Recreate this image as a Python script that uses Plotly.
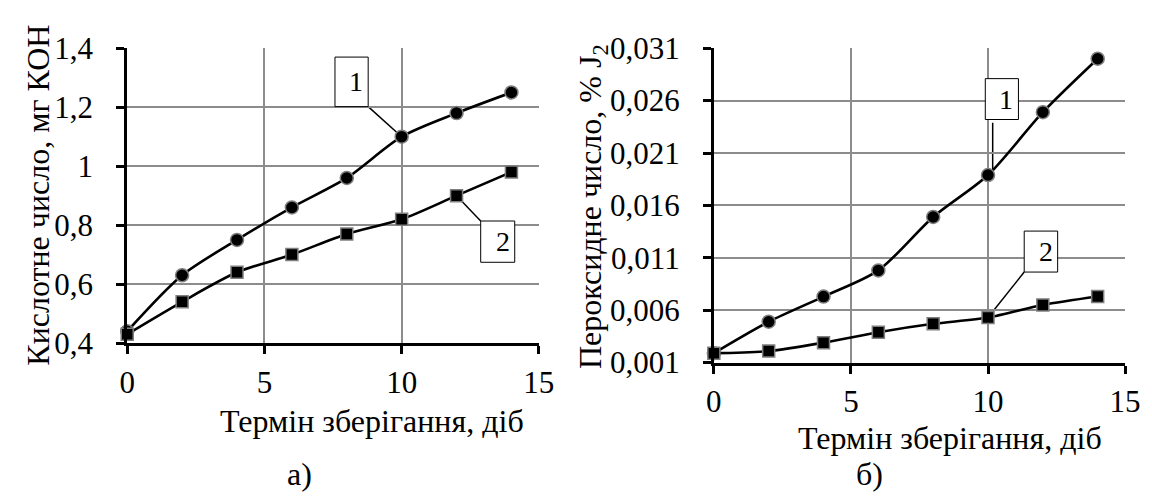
import plotly.graph_objects as go

# ---- data ----
days = [0, 2, 4, 6, 8, 10, 12, 14]
acid_1 = [0.44, 0.63, 0.75, 0.86, 0.96, 1.10, 1.18, 1.25]
acid_2 = [0.43, 0.54, 0.64, 0.70, 0.77, 0.82, 0.90, 0.98]
perox_1 = [0.0019, 0.0049, 0.0073, 0.0098, 0.0149, 0.0189, 0.0249, 0.0300]
perox_2 = [0.0019, 0.0021, 0.0029, 0.0039, 0.0047, 0.0053, 0.0065, 0.0073]

x_ticks = [0, 5, 10, 15]
x_tick_labels = ["0", "5", "10", "15"]
acid_ticks = [0.4, 0.6, 0.8, 1.0, 1.2, 1.4]
acid_tick_labels = ["0,4", "0,6", "0,8", "1", "1,2", "1,4"]
perox_ticks = [0.001, 0.006, 0.011, 0.016, 0.021, 0.026, 0.031]
perox_tick_labels = ["0,001", "0,006", "0,011", "0,016", "0,021", "0,026", "0,031"]

x_title = "Термін зберігання, діб"
acid_title = "Кислотне число, мг КОН"
perox_title = "Пероксидне число, % J<sub>2</sub>"

FONT = "Liberation Serif, Times New Roman, serif"
FS_TICK = 31
FS_TITLE = 32
GRID = "#8c8c8c"

fig = go.Figure()

def add_series(x, y, xa, ya, symbol, size):
    fig.add_trace(go.Scatter(
        x=x, y=y, xaxis=xa, yaxis=ya, mode="lines+markers",
        line=dict(color="black", width=2.6, shape="spline", smoothing=0.8),
        marker=dict(symbol=symbol, size=size, color="black",
                    line=dict(color="#7f7f7f", width=1.5)),
        cliponaxis=False, showlegend=False, hoverinfo="x+y"))

add_series(days, acid_1, "x", "y", "circle", 13)
add_series(days, acid_2, "x", "y", "square", 12)
add_series(days, perox_1, "x2", "y2", "circle", 13)
add_series(days, perox_2, "x2", "y2", "square", 12)

def xaxis_style(domain, anchor, standoff):
    return dict(domain=domain, anchor=anchor, range=[0, 15],
                tickmode="array", tickvals=x_ticks, ticktext=x_tick_labels,
                showline=True, linecolor="black", linewidth=3,
                ticks="outside", ticklen=8, tickwidth=3, tickcolor="black",
                showgrid=True, gridcolor=GRID, gridwidth=1.5, zeroline=False,
                tickfont=dict(family=FONT, size=FS_TICK, color="black"),
                ticklabelstandoff=standoff)

def yaxis_style(domain, anchor, rng, vals, texts):
    return dict(domain=domain, anchor=anchor, range=rng,
                tickmode="array", tickvals=vals, ticktext=texts,
                showline=True, linecolor="black", linewidth=3,
                ticks="outside", ticklen=8, tickwidth=3, tickcolor="black",
                showgrid=True, gridcolor=GRID, gridwidth=1.5, zeroline=False,
                tickfont=dict(family=FONT, size=FS_TICK, color="black"),
                ticklabelstandoff=17)

W, H = 1152, 500
fig.update_layout(
    width=W, height=H, margin=dict(l=0, r=0, t=0, b=0),
    paper_bgcolor="white", plot_bgcolor="white",
    font=dict(family=FONT, color="black"),
    xaxis=xaxis_style([113.6 / W, 534 / W], "y", 2),
    yaxis=yaxis_style([1 - 342 / H, 1 - 25 / H], "x", [0.4, 1.4], acid_ticks, acid_tick_labels),
    xaxis2=xaxis_style([712.7 / W, 1132.7 / W], "y2", 1),
    yaxis2=yaxis_style([1 - 363 / H, 1 - 25 / H], "x2", [0.001, 0.031], perox_ticks, perox_tick_labels),
)

tf = dict(family=FONT, size=FS_TITLE, color="black")
def pa(text, x, y, angle=0):
    return dict(text=text, x=x / W, y=1 - y / H, xref="paper", yref="paper",
                xanchor="center", yanchor="middle", showarrow=False, font=tf,
                textangle=angle)

ann = [
    pa(x_title, 364, 426),
    pa(x_title, 954, 444),
    pa("а)", 290, 483),
    pa("б)", 872, 483),
    pa(acid_title, 23, 183, -90),
    pa(perox_title, 589, 195, -90),
]

# callout boxes (label, xref, yref, x0, x1, y0, y1, leader start, leader end)
callouts = [
    ("1", "x", "y", 7.57, 8.78, 1.202, 1.37, (8.78, 1.202), (days[5], acid_1[5])),
    ("2", "x", "y", 12.88, 14.12, 0.674, 0.814, (12.88, 0.814), (days[6], acid_2[6])),
    ("1", "x2", "y2", 9.90, 11.11, 0.0242, 0.0281, (10.17, 0.0239), (10.17, perox_1[5] + 0.0004)),
    ("2", "x2", "y2", 11.32, 12.54, 0.00964, 0.01355, (11.32, 0.00964), (days[5], perox_2[5])),
]
shapes = []
for lab, xr, yr, x0, x1, y0, y1, p0, p1 in callouts:
    shapes.append(dict(type="line", xref=xr, yref=yr, x0=p0[0], y0=p0[1], x1=p1[0], y1=p1[1],
                       line=dict(color="black", width=1.5), layer="below"))
    shapes.append(dict(type="rect", xref=xr, yref=yr, x0=x0, x1=x1, y0=y0, y1=y1,
                       fillcolor="white", line=dict(color="black", width=1), layer="above"))
    ann.append(dict(text=lab, x=x1, y=(y0 + y1) / 2, xref=xr, yref=yr, xanchor="right",
                    yanchor="middle", xshift=-3, showarrow=False,
                    font=dict(family=FONT, size=28, color="black")))

fig.update_layout(annotations=ann, shapes=shapes)
fig.write_html("out.html")
